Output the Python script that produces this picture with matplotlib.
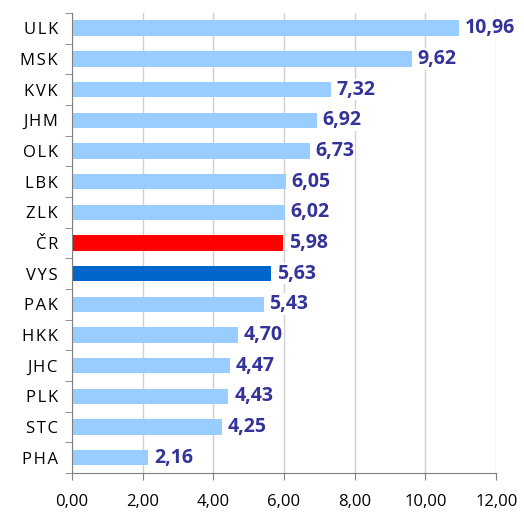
import matplotlib.pyplot as plt

regions = ['ULK', 'MSK', 'KVK', 'JHM', 'OLK', 'LBK', 'ZLK', 'ČR', 'VYS',
           'PAK', 'HKK', 'JHC', 'PLK', 'STC', 'PHA']
values = [10.96, 9.62, 7.32, 6.92, 6.73, 6.05, 6.02, 5.98, 5.63,
          5.43, 4.70, 4.47, 4.43, 4.25, 2.16]
xticks = [0, 2, 4, 6, 8, 10, 12]

colors = []
for r in regions:
    if r == 'ČR':
        colors.append('#FF0000')
    elif r == 'VYS':
        colors.append('#0066CC')
    else:
        colors.append('#99CCFF')

plt.rcParams['font.family'] = ['Open Sans', 'DejaVu Sans']

fig = plt.figure(figsize=(5.24, 5.13), dpi=100)
ax = fig.add_axes([0.137, 0.078, 0.810, 0.897])

y = list(range(len(regions)))[::-1]
ax.barh(y, values, height=0.5, color=colors, zorder=2)

for yi, v in zip(y, values):
    ax.text(v + 0.16, yi, f'{v:.2f}'.replace('.', ','), va='center', ha='left',
            fontsize=14, fontweight='bold', color='#333399', zorder=3,
            bbox=dict(facecolor='white', edgecolor='none', pad=0.5))

ax.set_xlim(0, 12)
ax.set_ylim(-0.5, len(regions) - 0.5)
ax.set_xticks(xticks)
ax.set_xticklabels([f'{t:.2f}'.replace('.', ',') for t in xticks], fontsize=12)
ax.set_yticks(y)
# letter-spaced labels like the original
ax.set_yticklabels(['\u200a'.join(r) for r in regions], fontsize=12)
ax.set_yticks([i - 0.5 for i in range(len(regions) + 1)], minor=True)
ax.tick_params(axis='y', which='major', length=0, pad=10)
ax.tick_params(axis='y', which='minor', length=5, color='#808080')
ax.tick_params(axis='x', length=5, color='#808080', pad=10)

ax.grid(axis='x', color='#D0D0D0', linewidth=1, zorder=0)
ax.set_axisbelow(True)
for s in ['top', 'right']:
    ax.spines[s].set_visible(False)
for s in ['left', 'bottom']:
    ax.spines[s].set_color('#808080')

fig.savefig('out.png', dpi=100)
